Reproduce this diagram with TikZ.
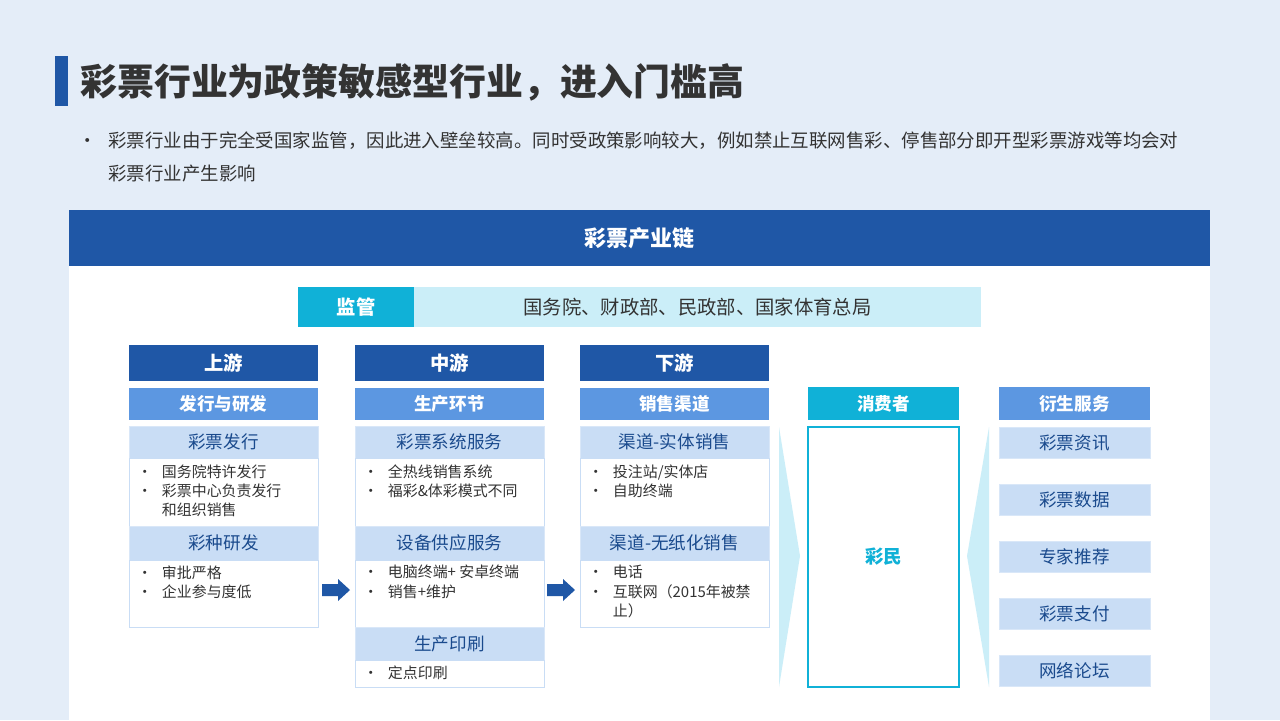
\documentclass[tikz,border=0pt]{standalone}
\usepackage{fontspec}
\setmainfont{Noto Sans CJK SC}
\definecolor{bgblue}{HTML}{E4EDF8}
\definecolor{darkblue}{HTML}{1F57A6}
\definecolor{midblue}{HTML}{5C97E1}
\definecolor{lightblue}{HTML}{C9DDF5}
\definecolor{cyanbox}{HTML}{10B1D7}
\definecolor{lightcyan}{HTML}{CBEEF8}
\definecolor{textgray}{HTML}{333333}
\tikzset{
  px/.style={x=0.02cm, y=-0.02cm},
  box/.style={anchor=north west, inner sep=0pt, outer sep=0pt},
  tophead/.style={box, fill=darkblue, text=white, font=\fontsize{11}{13}\selectfont\bfseries},
  subhead/.style={box, fill=midblue, text=white, font=\fontsize{10}{12}\selectfont\bfseries},
  section/.style={box, fill=lightblue, draw=lightblue!70!white, text=darkblue!85!black, font=\fontsize{10}{12}\selectfont},
  content/.style={box, fill=white, draw=lightblue, text=textgray, font=\fontsize{8.5}{11}\selectfont, align=left},
  bullets/.style={anchor=north west, inner sep=0pt, text=textgray, font=\fontsize{8.5}{11}\selectfont, align=left},
  flowarrow/.style={fill=darkblue}
}
\newcommand{\bl}{\makebox[14pt][l]{•}}
\newcommand{\blind}{\hspace*{14pt}}
\newcommand{\blockarrow}[1]{\fill[flowarrow] ($(#1)+(-14,-6)$) -- ++(16,0) -- ++(0,-5) -- ++(12,11) -- ++(-12,11) -- ++(0,-5) -- ++(-16,0) -- cycle;}
\usetikzlibrary{calc}
\begin{document}
\begin{tikzpicture}[px]
  \useasboundingbox (0,0) rectangle (1280,720);
  \fill[bgblue] (0,0) rectangle (1280,720);

  % 标题
  \fill[darkblue] (55,56) rectangle (68,106);
  \node[anchor=west, inner sep=0pt, text=textgray, font=\fontsize{21}{23}\selectfont\bfseries] (title) at (80,82) {彩票行业为政策敏感型行业，进入门槛高};
  \node[anchor=west, inner sep=0pt, text=textgray, font=\fontsize{10.5}{12}\selectfont] (dot) at (78,143) {•};
  \node[anchor=north west, inner sep=0pt, text=textgray, font=\fontsize{10.5}{19.3}\selectfont, align=left] (intro) at (108,131)
    {彩票行业由于完全受国家监管，因此进入壁垒较高。同时受政策影响较大，例如禁止互联网售彩、停售部分即开型彩票游戏等均会对\\彩票行业产生影响};

  % 主面板
  \fill[white] (69,210) rectangle (1210,720);
  \node[tophead, minimum width=1141*0.02cm, minimum height=56*0.02cm, font=\fontsize{12.5}{14}\selectfont\bfseries] (chain) at (69,210) {彩票产业链};

  % 监管
  \node[box, fill=cyanbox, text=white, minimum width=116*0.02cm, minimum height=40*0.02cm, font=\fontsize{11}{13}\selectfont\bfseries] (jg) at (298,287) {监管};
  \node[box, fill=lightcyan, text=textgray, minimum width=567*0.02cm, minimum height=40*0.02cm, font=\fontsize{11}{13}\selectfont] (jgorg) at (414,287) {国务院、财政部、民政部、国家体育总局};

  % 三列
  \foreach \x/\name/\top/\sub in {129/up/上游/发行与研发, 355/mid/中游/生产环节, 580/down/下游/销售渠道} {
    \node[tophead, minimum width=189*0.02cm, minimum height=36*0.02cm] (\name head) at (\x,345) {\top};
    \node[subhead, minimum width=189*0.02cm, minimum height=32*0.02cm] (\name sub) at (\x,388) {\sub};
  }

  % 上游
  \node[section, minimum width=189*0.02cm, minimum height=32*0.02cm] (upa) at (129,426) {彩票发行};
  \node[content, minimum width=189*0.02cm, minimum height=68*0.02cm] (upab) at (129,458) {};
  \node[bullets] (upat) at (137,464) {\bl 国务院特许发行\\\bl 彩票中心负责发行\\\blind 和组织销售};
  \node[section, minimum width=189*0.02cm, minimum height=34*0.02cm] (upb) at (129,526) {彩种研发};
  \node[content, minimum width=189*0.02cm, minimum height=67*0.02cm] (upbb) at (129,560) {};
  \node[bullets] (upbt) at (137,565) {\bl 审批严格\\\bl 企业参与度低};

  % 中游
  \node[section, minimum width=189*0.02cm, minimum height=32*0.02cm] (mida) at (355,426) {彩票系统服务};
  \node[content, minimum width=189*0.02cm, minimum height=68*0.02cm] (midab) at (355,458) {};
  \node[bullets] (midat) at (363,464) {\bl 全热线销售系统\\\bl 福彩\&体彩模式不同};
  \node[section, minimum width=189*0.02cm, minimum height=34*0.02cm] (midb) at (355,526) {设备供应服务};
  \node[content, minimum width=189*0.02cm, minimum height=67*0.02cm] (midbb) at (355,560) {};
  \node[bullets] (midbt) at (363,565) {\bl 电脑终端+ 安卓终端\\\bl 销售+维护};
  \node[section, minimum width=189*0.02cm, minimum height=33*0.02cm] (midc) at (355,627) {生产印刷};
  \node[content, minimum width=189*0.02cm, minimum height=27*0.02cm] (midcb) at (355,660) {};
  \node[bullets] (midct) at (363,665) {\bl 定点印刷};

  % 下游
  \node[section, minimum width=189*0.02cm, minimum height=32*0.02cm] (downa) at (580,426) {渠道-实体销售};
  \node[content, minimum width=189*0.02cm, minimum height=68*0.02cm] (downab) at (580,458) {};
  \node[bullets] (downat) at (588,464) {\bl 投注站/实体店\\\bl 自助终端};
  \node[section, minimum width=189*0.02cm, minimum height=34*0.02cm] (downb) at (580,526) {渠道-无纸化销售};
  \node[content, minimum width=189*0.02cm, minimum height=67*0.02cm] (downbb) at (580,560) {};
  \node[bullets] (downbt) at (588,565) {\bl 电话\\\bl 互联网（2015年被禁\\\blind 止）};

  % 箭头
  \coordinate (arr1) at (336,590);
  \coordinate (arr2) at (561,590);
  \blockarrow{arr1}
  \blockarrow{arr2}

  % 消费者
  \fill[lightcyan] (779,427) -- (800,556) -- (779,687) -- cycle;
  \node[box, fill=cyanbox, text=white, minimum width=151*0.02cm, minimum height=33*0.02cm, font=\fontsize{10}{12}\selectfont\bfseries] (cons) at (808,387) {消费者};
  \node[box, draw=cyanbox, line width=0.8pt, fill=white, minimum width=151*0.02cm, minimum height=260*0.02cm] (consbox) at (808,427) {};
  \node[text=cyanbox, font=\fontsize{10.5}{12}\selectfont\bfseries] (caimin) at (consbox.center) {彩民};

  % 衍生服务
  \fill[lightcyan] (989,427) -- (967,556) -- (989,687) -- cycle;
  \node[subhead, minimum width=151*0.02cm, minimum height=33*0.02cm] (deriv) at (999,387) {衍生服务};
  \foreach \y/\name/\txt in {427/s1/彩票资讯, 484/s2/彩票数据, 541/s3/专家推荐, 598/s4/彩票支付, 655/s5/网络论坛} {
    \node[section, minimum width=151*0.02cm, minimum height=31*0.02cm] (\name) at (999,\y) {\txt};
  }
\end{tikzpicture}
\end{document}
